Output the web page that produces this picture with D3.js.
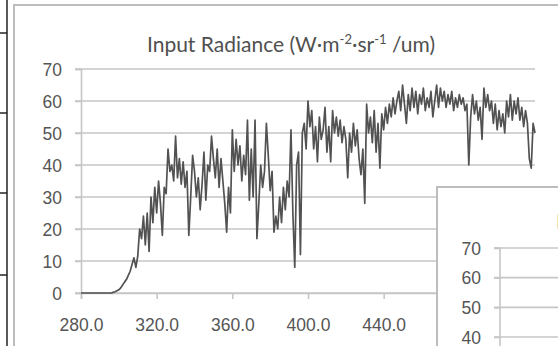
<!DOCTYPE html>
<html>
<head>
<meta charset="utf-8">
<script src="https://cdn.jsdelivr.net/npm/d3@7"></script>
<style>
  html, body { margin: 0; padding: 0; background: #fff; }
  svg { display: block; font-family: Lato, "Open Sans", sans-serif; }
  .tick text { fill: #555; font-size: 17.5px; }
</style>
</head>
<body>
<div id="chart"></div>
<script>
// Spectrum sampled every 1 nm starting at 280 nm
const startNm = 280;
const radiance = [
  0, 0, 0, 0, 0, 0, 0, 0, 0, 0,
  0, 0, 0, 0, 0, 0, 0, 0.2, 0.4, 0.7,
  1.0, 1.6, 2.5, 3.4, 4.2, 5.5, 6.8, 9, 11, 8,
  11.5, 20, 17, 24, 15, 25, 13, 30, 22, 33,
  25, 35, 28, 18, 33, 31, 45, 38, 40, 35,
  49, 36, 42, 34, 41, 33, 38, 18, 30, 43,
  38, 30, 36, 26, 34, 44, 29, 40, 38, 49,
  42, 36, 45, 33, 42, 35, 28, 19, 33, 25,
  51, 38, 48, 40, 46, 35, 43, 37, 54, 29,
  45, 30, 54, 17, 28, 40, 33, 38, 53, 43,
  32, 38, 19, 24, 20, 30, 22, 33, 26, 35,
  30, 51, 25, 8, 40, 44, 12, 50, 53, 45,
  60, 52, 57, 45, 52, 41, 55, 48, 51, 58,
  44, 52, 41, 57, 50, 55, 49, 54, 47, 52,
  48, 36, 50, 44, 53, 46, 51, 42, 37, 45,
  28, 59, 50, 55, 47, 57, 44, 53, 39, 56,
  51, 58, 53, 59, 55, 61, 56, 60, 63, 57,
  65, 59, 53, 62, 57, 64, 58, 63, 56, 62,
  59, 64, 57, 61, 58, 63, 55, 60, 65, 58,
  64, 60, 63, 58, 62, 59, 63, 57, 61, 58,
  62, 59, 61, 57, 59, 40, 55, 62, 56, 60,
  54, 58, 48, 64, 58, 62, 57, 60, 53, 59,
  51, 57, 52, 56, 50, 60, 55, 62, 54, 60,
  56, 61, 54, 58, 52, 57, 53, 42, 39, 53,
  50
];
const xTicks = [280, 320, 360, 400, 440, 480, 520];
const yTicks = [0, 10, 20, 30, 40, 50, 60, 70];
const insetTicks = [40, 50, 60, 70];
const title = "Input Radiance (W\u00b7m";

const W = 558, H = 346;
const gridColor = "#c6c6c6";

const svg = d3.select("#chart").append("svg")
    .attr("width", W)
    .attr("height", H);

// the inset chart box hides whatever lies under it
svg.append("clipPath").attr("id", "outside-inset")
    .append("path")
    .attr("d", `M0,0H${W}V186H436V${H}H0Z`);

// table lines at the far left
svg.append("line")
    .attr("x1", 7).attr("x2", 7).attr("y1", 0).attr("y2", H)
    .attr("stroke", "#222").attr("stroke-width", 1.5);
[33, 113, 193, 275].forEach(y => {
    svg.append("line")
        .attr("x1", 0).attr("x2", 7).attr("y1", y).attr("y2", y)
        .attr("stroke", "#222").attr("stroke-width", 1.5);
});

// chart frame
svg.append("rect")
    .attr("x", 14).attr("y", 5)
    .attr("width", W + 20).attr("height", H + 20)
    .attr("fill", "#fff")
    .attr("stroke", "#bdbdbd").attr("stroke-width", 2);

// title with superscripts
const t = svg.append("text")
    .attr("x", 291).attr("y", 52)
    .attr("text-anchor", "middle")
    .attr("fill", "#505050")
    .style("font-size", "21px");
t.append("tspan").text(title);
t.append("tspan").attr("dy", -8).style("font-size", "13px").text("-2");
t.append("tspan").attr("dy", 8).text("\u00b7sr");
t.append("tspan").attr("dy", -8).style("font-size", "13px").text("-1");
t.append("tspan").attr("dy", 8).text(" /um)");

const x = d3.scaleLinear().domain([280, 520]).range([81, 535]);
const y = d3.scaleLinear().domain([0, 70]).range([293, 69]);

const plot = svg.append("g").attr("clip-path", "url(#outside-inset)");

// gridlines
plot.append("g")
    .selectAll("line")
    .data(yTicks)
    .join("line")
    .attr("x1", 75).attr("x2", 535)
    .attr("y1", d => y(d)).attr("y2", d => y(d))
    .attr("stroke", gridColor).attr("stroke-width", 1.6);

// y axis
const yAxis = plot.append("g")
    .attr("transform", "translate(81,0)")
    .call(d3.axisLeft(y).tickValues(yTicks).tickSize(6).tickPadding(13));
yAxis.select(".domain").attr("stroke", gridColor).attr("stroke-width", 1.6);
yAxis.selectAll(".tick line").attr("stroke", gridColor).attr("stroke-width", 1.6);
yAxis.selectAll(".tick text").attr("dy", "0.35em");

// x axis, labels past 440 sit under the inset
const xAxis = plot.append("g")
    .attr("transform", "translate(0,293)")
    .call(d3.axisBottom(x).tickValues(xTicks).tickFormat(d3.format(".1f")).tickSize(6).tickPadding(20));
xAxis.select(".domain").attr("stroke", gridColor).attr("stroke-width", 1.6);
xAxis.selectAll(".tick line").attr("stroke", gridColor).attr("stroke-width", 1.6);
xAxis.selectAll(".tick text").filter(d => d > 480).remove();

// spectrum line
const line = d3.line()
    .x((d, i) => x(startNm + i))
    .y(d => y(d));
plot.append("path")
    .datum(radiance)
    .attr("d", line)
    .attr("fill", "none")
    .attr("stroke", "#525252")
    .attr("stroke-width", 1.7)
    .attr("stroke-linejoin", "round");

// second chart overlapping the bottom right
svg.append("rect")
    .attr("x", 437).attr("y", 187)
    .attr("width", 200).attr("height", 200)
    .attr("fill", "#fff")
    .attr("stroke", "#bdbdbd").attr("stroke-width", 2);

const y2 = d3.scaleLinear().domain([40, 70]).range([337, 248]);
svg.append("g")
    .selectAll("line")
    .data(insetTicks)
    .join("line")
    .attr("x1", 494).attr("x2", W)
    .attr("y1", d => y2(d)).attr("y2", d => y2(d))
    .attr("stroke", gridColor).attr("stroke-width", 1.6);
const y2Axis = svg.append("g")
    .attr("transform", "translate(500,0)")
    .call(d3.axisLeft(y2).tickValues(insetTicks).tickSize(6).tickPadding(13));
y2Axis.select(".domain").attr("stroke", gridColor).attr("stroke-width", 1.6)
    .attr("d", "M-6,248H0V" + H);
y2Axis.selectAll(".tick line").attr("stroke", gridColor).attr("stroke-width", 1.6);
y2Axis.selectAll(".tick text").attr("dy", "0.35em");

svg.append("text")
    .attr("x", 556).attr("y", 229)
    .attr("fill", "#505050")
    .style("font-size", "21px")
    .text("I");
</script>
</body>
</html>
